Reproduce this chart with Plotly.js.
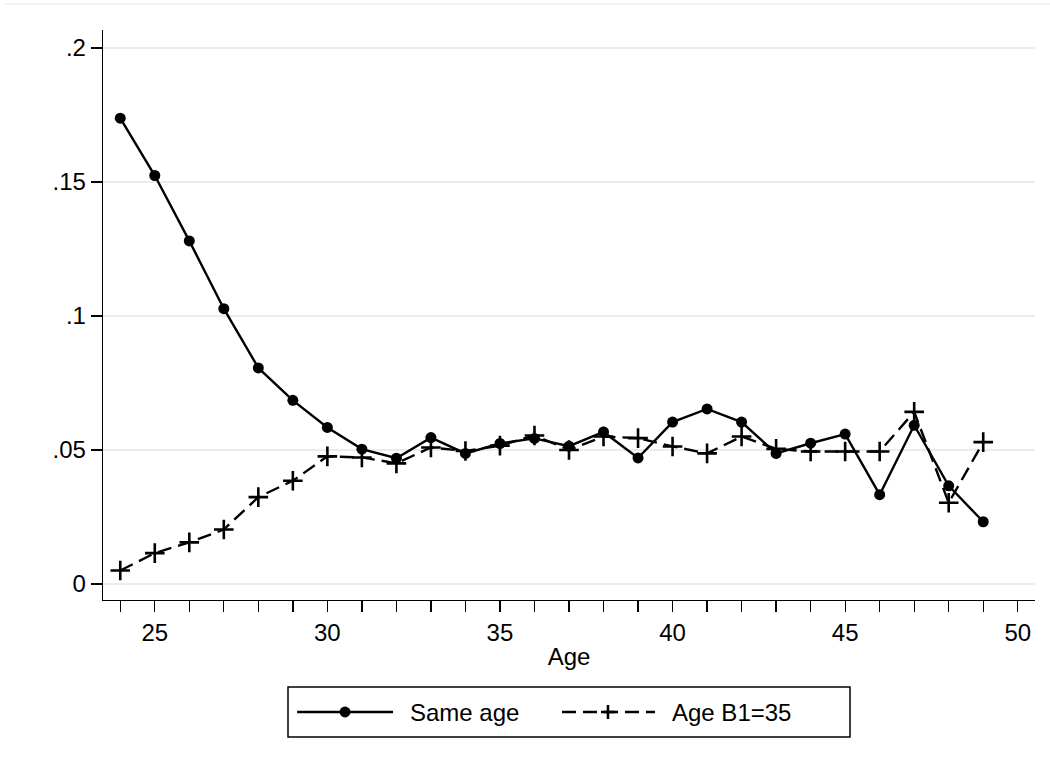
<!DOCTYPE html>
<html>
<head>
<meta charset="utf-8">
<script src="https://cdn.plot.ly/plotly-3.0.1.min.js"></script>
<style>html,body{margin:0;padding:0;background:#fff;}#chart{width:1050px;height:767px;}</style>
</head>
<body>
<div id="chart"></div>
<script>
const ages = [24,25,26,27,28,29,30,31,32,33,34,35,36,37,38,39,40,41,42,43,44,45,46,47,48,49];
const sameAge = [0.1738,0.1524,0.1280,0.1027,0.0806,0.0685,0.0584,0.0503,0.0469,0.0546,0.0487,0.0524,0.0543,0.0514,0.0567,0.0470,0.0604,0.0653,0.0604,0.0487,0.0525,0.0559,0.0333,0.0592,0.0366,0.0232];
const ageB1_35 = [0.0050,0.0115,0.0155,0.0203,0.0324,0.0385,0.0476,0.0472,0.0450,0.0509,0.0496,0.0516,0.0554,0.0500,0.0550,0.0544,0.0513,0.0487,0.0550,0.0504,0.0494,0.0494,0.0494,0.0642,0.0303,0.0529];
const seriesNames = ["Same age","Age B1=35"];
const yTickVals = [0,0.05,0.1,0.15,0.2];
const yTickText = ["0",".05",".1",".15",".2"];
const xTickVals = [24,25,26,27,28,29,30,31,32,33,34,35,36,37,38,39,40,41,42,43,44,45,46,47,48,49,50];
const xTickText = xTickVals.map(v => v % 5 === 0 ? String(v) : "");

const font = {family: "Liberation Sans, Arial, sans-serif", size: 24, color: "#000"};
const dashPattern = "14px,7px";

const traces = [
  {x: ages, y: sameAge, name: seriesNames[0], type: "scatter", mode: "lines+markers",
   line: {color: "#000", width: 2.4}, marker: {symbol: "circle", size: 11, color: "#000"}},
  {x: ages, y: ageB1_35, name: seriesNames[1], type: "scatter", mode: "lines+markers",
   line: {color: "#000", width: 2.4, dash: dashPattern},
   marker: {symbol: "cross-thin", size: 14, color: "#000", line: {color: "#000", width: 2.6}}}
];

// manual legend (box, sample lines, symbols, labels) in paper coordinates
const ly = -0.1965;
const shapes = [
  {type: "line", xref: "paper", yref: "paper", x0: -0.105, x1: 1.02, y0: 1.0456, y1: 1.0456,
   line: {color: "#eaf1f3", width: 1.5}},
  {type: "rect", xref: "paper", yref: "paper", x0: 0.1985, x1: 0.8015, y0: -0.2404, y1: -0.1526,
   line: {color: "#000", width: 1.5}, fillcolor: "#fff"},
  {type: "line", xref: "paper", yref: "paper", x0: 0.2083, x1: 0.3112, y0: ly, y1: ly,
   line: {color: "#000", width: 2.4}},
  {type: "circle", xref: "paper", yref: "paper", x0: 0.2597 - 0.0059, x1: 0.2597 + 0.0059,
   y0: ly - 0.0096, y1: ly + 0.0096, line: {color: "#000", width: 0}, fillcolor: "#000"},
  {type: "line", xref: "paper", yref: "paper", x0: 0.4925, x1: 0.5923, y0: ly, y1: ly,
   line: {color: "#000", width: 2.4, dash: dashPattern}},
  {type: "line", xref: "paper", yref: "paper", x0: 0.5418 - 0.0075, x1: 0.5418 + 0.0075, y0: ly, y1: ly,
   line: {color: "#000", width: 2.6}},
  {type: "line", xref: "paper", yref: "paper", x0: 0.5418, x1: 0.5418, y0: ly - 0.0123, y1: ly + 0.0123,
   line: {color: "#000", width: 2.6}}
];
const annotations = [
  {xref: "paper", yref: "paper", x: 0.3273, y: ly, xanchor: "left", yanchor: "middle",
   text: seriesNames[0], showarrow: false, font: font},
  {xref: "paper", yref: "paper", x: 0.6084, y: ly, xanchor: "left", yanchor: "middle",
   text: seriesNames[1], showarrow: false, font: font}
];

const layout = {
  width: 1050, height: 767,
  paper_bgcolor: "#fff", plot_bgcolor: "#fff",
  margin: {l: 103, r: 15, t: 30, b: 167},
  font: font,
  showlegend: false,
  xaxis: {range: [23.5, 50.5], tickmode: "array", tickvals: xTickVals, ticktext: xTickText,
          ticks: "outside", ticklen: 11, tickwidth: 1.3, tickcolor: "#000",
          showline: true, linecolor: "#000", linewidth: 1.3, showgrid: false, zeroline: false,
          tickfont: font, title: {text: "Age", font: font, standoff: 3}},
  yaxis: {range: [-0.006, 0.2067], tickmode: "array", tickvals: yTickVals, ticktext: yTickText,
          ticks: "outside", ticklen: 11, tickwidth: 1.3, tickcolor: "#000",
          showline: true, linecolor: "#000", linewidth: 1.3,
          showgrid: true, gridcolor: "#e6eef1", gridwidth: 2, zeroline: false,
          tickfont: font},
  shapes: shapes,
  annotations: annotations
};

Plotly.newPlot("chart", traces, layout, {displayModeBar: false, staticPlot: true});
</script>
</body>
</html>
